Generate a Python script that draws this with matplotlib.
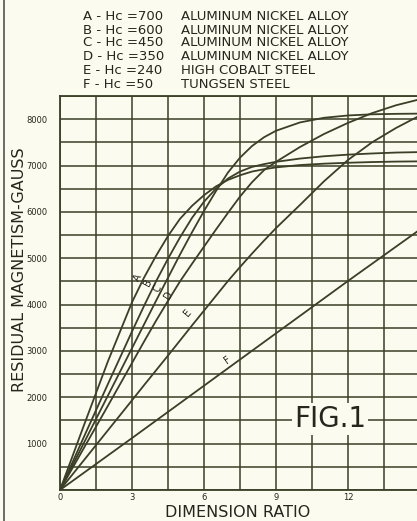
import matplotlib
matplotlib.use("Agg")
import matplotlib.pyplot as plt
from matplotlib.lines import Line2D

# ---- data ----
ratio = [0, 1, 2, 3, 3.5, 4, 4.5, 5, 5.5, 6, 6.5, 7, 7.5, 8, 8.5, 9, 10, 11, 12, 13, 14, 15]
curve_A = [0, 1400, 2780, 4050, 4580, 5050, 5480, 5850, 6130, 6360, 6550, 6690, 6790, 6870,
           6920, 6960, 7010, 7040, 7060, 7075, 7085, 7090]
curve_B = [0, 1150, 2290, 3420, 3970, 4500, 4990, 5450, 5870, 6220, 6500, 6720, 6870, 6970,
           7030, 7080, 7150, 7200, 7235, 7260, 7280, 7290]
curve_C = [0, 1020, 2040, 3060, 3570, 4080, 4580, 5080, 5560, 6020, 6450, 6850, 7170, 7420,
           7610, 7750, 7930, 8030, 8080, 8105, 8115, 8120]
curve_D = [0, 910, 1820, 2740, 3200, 3650, 4080, 4500, 4880, 5250, 5620, 5980, 6330, 6640,
           6900, 7080, 7400, 7680, 7920, 8130, 8300, 8430]
curve_E = [0, 645, 1290, 1935, 2260, 2580, 2900, 3225, 3550, 3870, 4190, 4510, 4810, 5100,
           5380, 5650, 6150, 6660, 7120, 7500, 7810, 8080]
ratio_F = [0, 3, 6, 9, 12, 15]
curve_F = [0, 1120, 2250, 3380, 4510, 5620]

legend_prefix = ["A - Hc =700", "B - Hc =600", "C - Hc =450",
                 "D - Hc =350", "E - Hc =240", "F - Hc =50"]
legend_desc = ["ALUMINUM NICKEL ALLOY", "ALUMINUM NICKEL ALLOY", "ALUMINUM NICKEL ALLOY",
               "ALUMINUM NICKEL ALLOY", "HIGH COBALT STEEL", "TUNGSEN STEEL"]

x_ticks = [0, 1.5, 3, 4.5, 6, 7.5, 9, 10.5, 12, 13.5, 15]
x_ticklabels = ["0", "", "3", "", "6", "", "9", "", "12", "", "15"]
y_ticks = list(range(0, 8501, 500))
y_ticklabels = [str(v) if (v % 1000 == 0 and v > 0) else "" for v in y_ticks]

# ---- style ----
BG = "#fbfbf0"
INK = "#3a3f26"
TXT = "#26261e"

W, H = 417, 521
fig = plt.figure(figsize=(W / 100, H / 100), dpi=100, facecolor=BG)
ax = fig.add_axes([60 / W, 31 / H, 360 / W, 394 / H])
ax.set_facecolor(BG)
ax.set_xlim(0, 15)
ax.set_ylim(0, 8500)

ax.set_xticks(x_ticks)
ax.set_xticklabels(x_ticklabels)
ax.set_yticks(y_ticks)
ax.set_yticklabels(y_ticklabels)
ax.tick_params(length=0, labelsize=6, colors=TXT)
ax.tick_params(axis="y", pad=9)
ax.tick_params(axis="x", pad=2)
ax.grid(True, color=INK, linewidth=1.1)
ax.set_axisbelow(True)
for s in ax.spines.values():
    s.set_color(INK)
    s.set_linewidth(1.3)

for ys in (curve_A, curve_B, curve_C, curve_D, curve_E):
    ax.plot(ratio, ys, color=INK, linewidth=1.3, solid_joinstyle="round")
ax.plot(ratio_F, curve_F, color=INK, linewidth=1.3)

# curve labels
lab_kw = dict(fontsize=7, color=TXT, ha="center", va="center")
ax.text(3.25, 4590, "A", rotation=62, **lab_kw)
ax.text(3.67, 4480, "B", rotation=62, **lab_kw)
ax.text(4.08, 4350, "C", rotation=60, **lab_kw)
ax.text(4.50, 4200, "D", rotation=58, **lab_kw)
ax.text(5.33, 3815, "E", rotation=50, **lab_kw)
ax.text(7.0, 2800, "F", rotation=36, **lab_kw)

ax.text(11.25, 1530, "FIG.1", fontsize=20, color=TXT, ha="center", va="center",
        bbox=dict(facecolor=BG, edgecolor="none", pad=1.5))

# legend text block
ys_px = [16, 30, 43, 57, 71, 84]
for yp, pre, desc in zip(ys_px, legend_prefix, legend_desc):
    fig.text(83 / W, 1 - yp / H, pre, fontsize=9.5, color=TXT, ha="left", va="center")
    fig.text(181 / W, 1 - yp / H, desc, fontsize=9.5, color=TXT, ha="left", va="center")

fig.text(20 / W, 1 - 270 / H, "RESIDUAL MAGNETISM-GAUSS", rotation=90, fontsize=11.5,
         color=TXT, ha="center", va="center")
fig.text(238 / W, 1 - 517 / H, "DIMENSION RATIO", fontsize=11.5, color=TXT,
         ha="center", va="baseline")

fig.add_artist(Line2D([4 / W, 4 / W], [0, 1], transform=fig.transFigure,
                      color="#555550", linewidth=1.2))

fig.savefig("out.png", dpi=100, facecolor=BG)
